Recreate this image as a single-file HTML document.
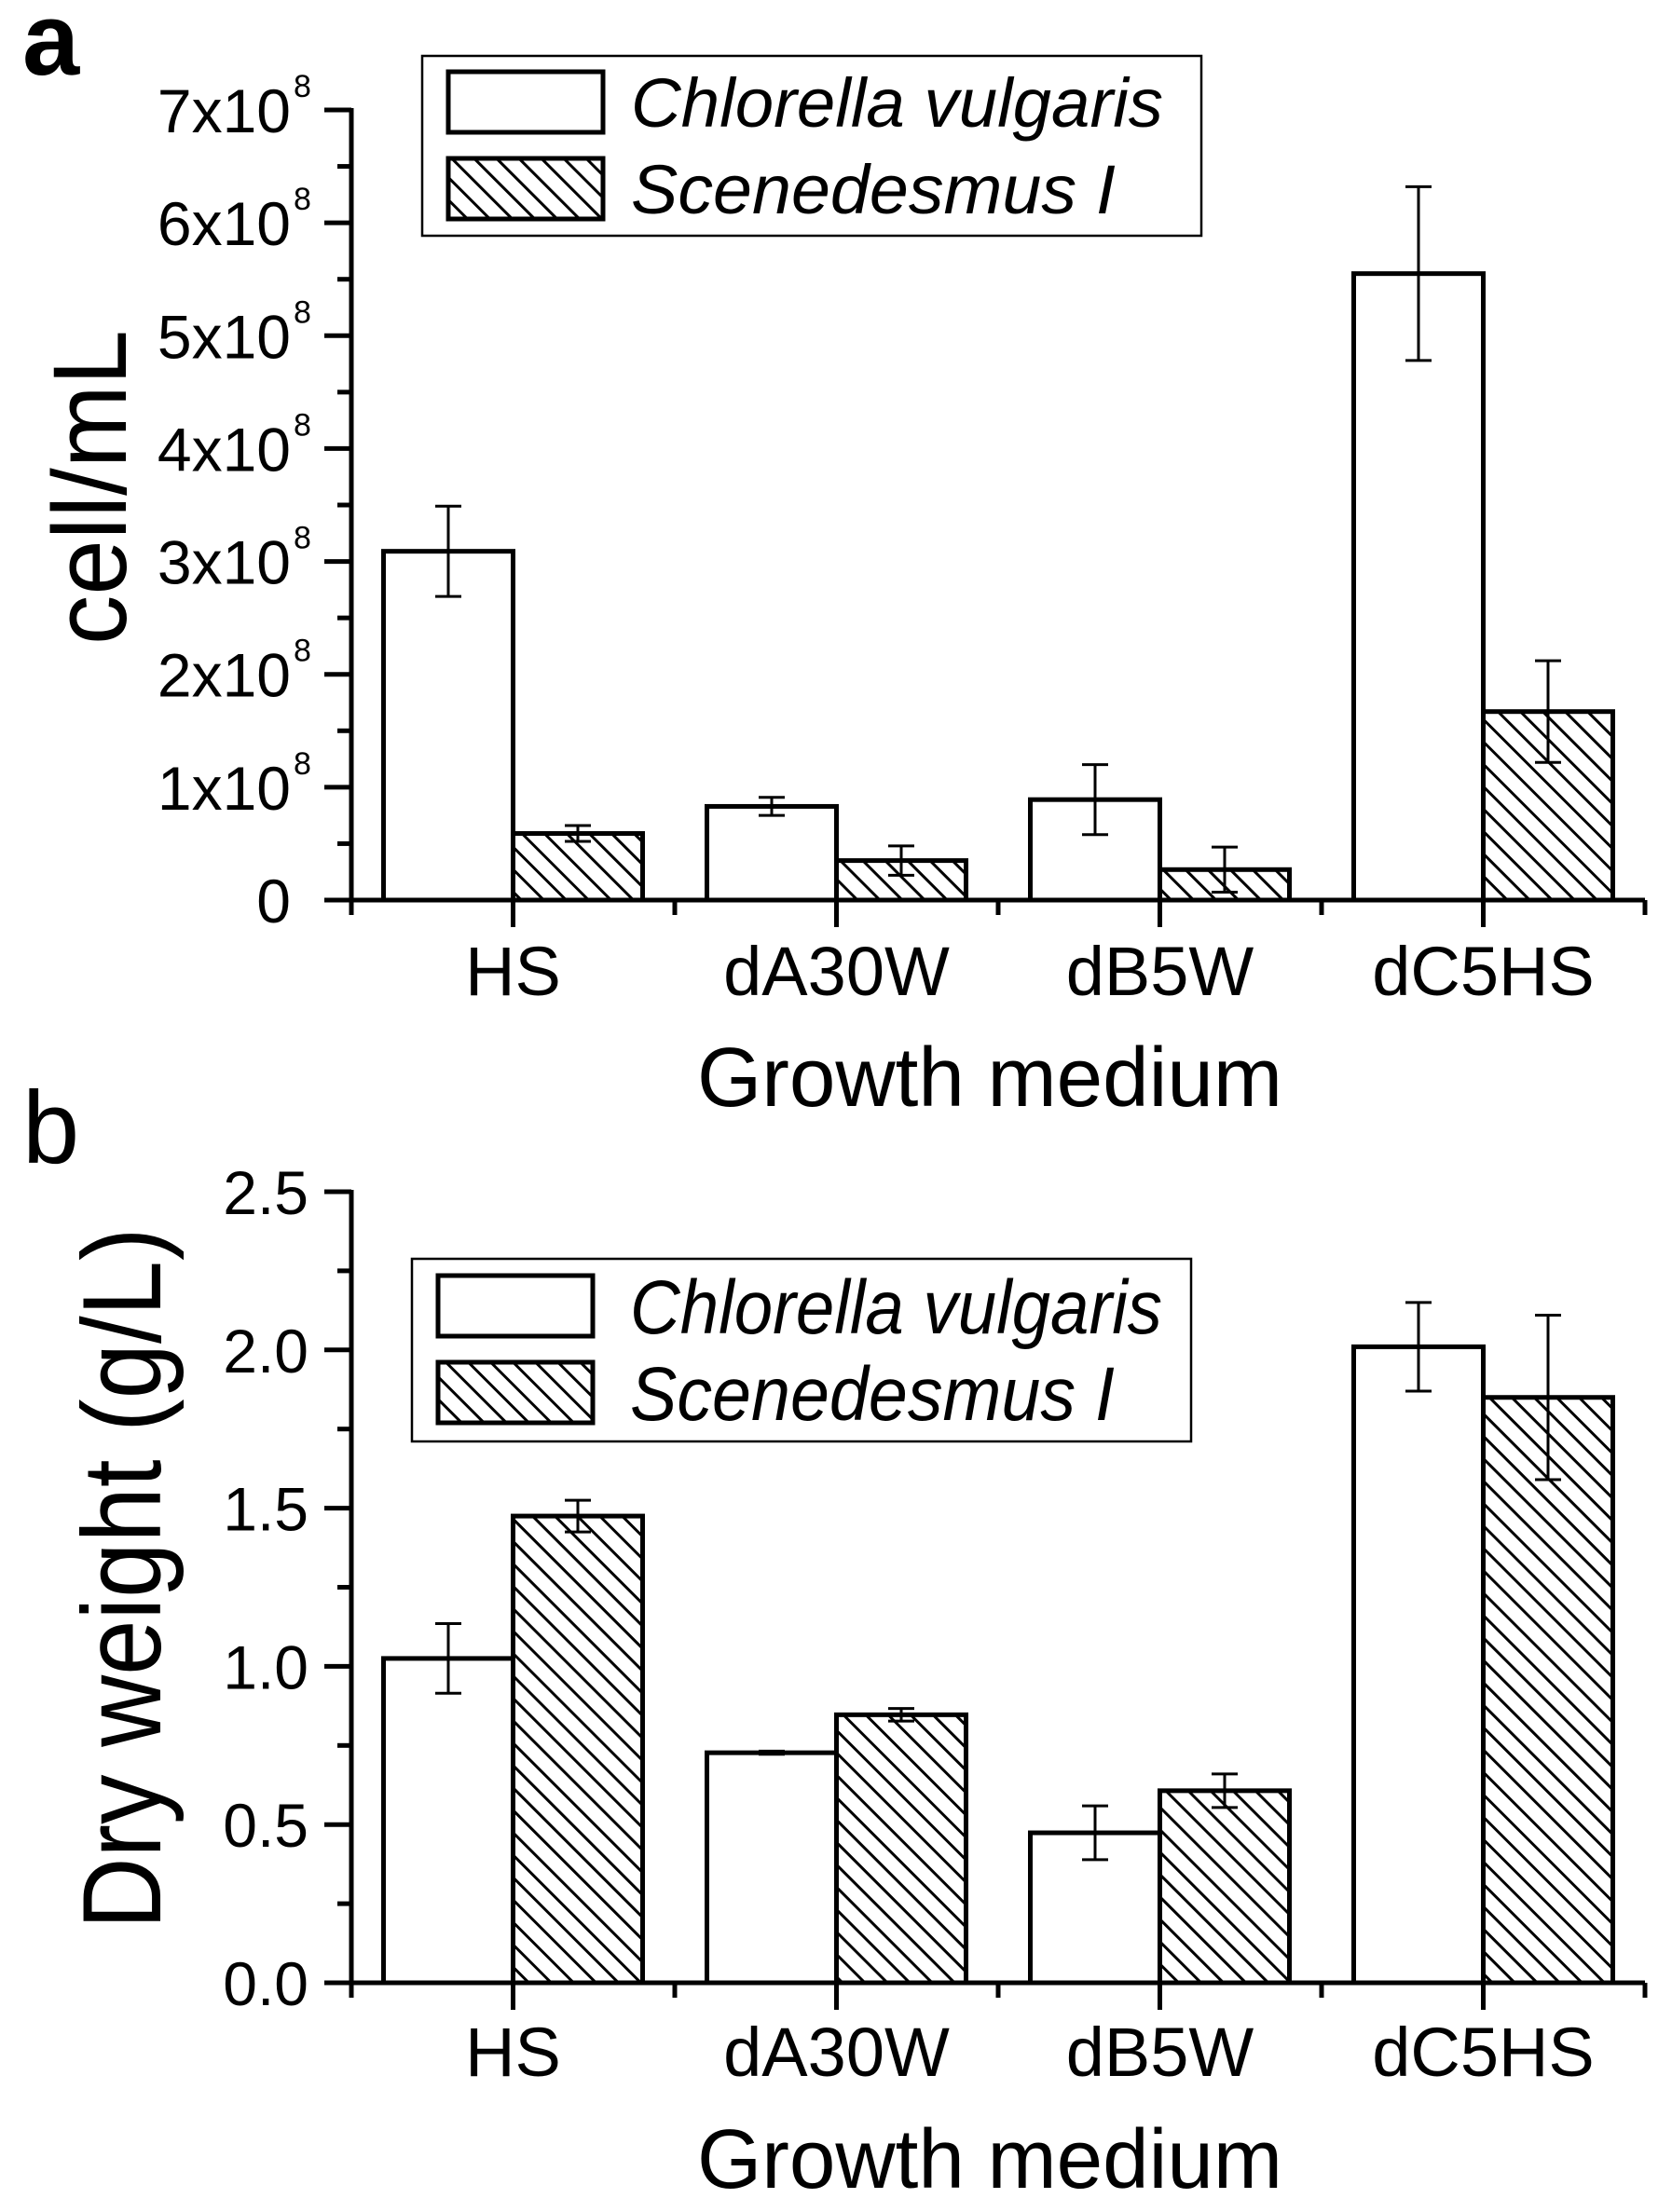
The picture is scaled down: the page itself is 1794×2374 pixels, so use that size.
<!DOCTYPE html>
<html><head><meta charset="utf-8"><style>
html,body{margin:0;padding:0;background:#fff}
svg{display:block}
text{font-family:"Liberation Sans",Arial,sans-serif;fill:#000}
</style></head><body>
<svg id="fig" xmlns="http://www.w3.org/2000/svg" width="1794" height="2374" viewBox="0 0 1794 2374">
<defs>
<pattern id="hatch" patternUnits="userSpaceOnUse" width="17" height="17" patternTransform="rotate(-45)">
<rect width="17" height="17" fill="#fff"/>
<line x1="0" y1="0" x2="0" y2="17" stroke="#000" stroke-width="6"/>
</pattern>
</defs>
<g id="panelA"></g>
<g id="panelB"></g>
</svg>
<script>
const categories = ["HS","dA30W","dB5W","dC5HS"];
const cellChlorella = [3.09,0.83,0.89,5.55];
const cellChlorellaErr = [0.40,0.08,0.31,0.77];
const cellScened = [0.59,0.35,0.27,1.67];
const cellScenedErr = [0.07,0.13,0.20,0.45];
const dryChlorella = [1.025,0.727,0.474,2.01];
const dryChlorellaErr = [0.11,0.005,0.085,0.14];
const dryScened = [1.475,0.847,0.607,1.85];
const dryScenedErr = [0.05,0.02,0.053,0.26];
const cellTicks = [0,1,2,3,4,5,6,7];
const dryTicks = [0,0.5,1.0,1.5,2.0,2.5];
const dryTickLabels = ["0.0","0.5","1.0","1.5","2.0","2.5"];

const NS="http://www.w3.org/2000/svg";
function mk(tag,attrs,parent){const e=document.createElementNS(NS,tag);for(const k in attrs)e.setAttribute(k,attrs[k]);parent.appendChild(e);return e;}

function drawPanel(g,cfg){
  const x0=377, xEnd=1765, catW=(xEnd-x0)/categories.length, bw=139;
  const y=v=>cfg.y0-(v-cfg.vmin)/(cfg.vmax-cfg.vmin)*(cfg.y0-cfg.yTop);
  const xc=i=>x0+catW*(i+0.5);
  categories.forEach((c,i)=>{
    [[cfg.s1,cfg.e1,"#fff",-bw,"chlorella"],[cfg.s2,cfg.e2,"url(#hatch)",0,"scenedesmus"]].forEach(([s,e,fill,off,nm])=>{
      const top=y(s[i]);
      const r=mk("rect",{x:xc(i)+off,y:top,width:bw,height:cfg.y0-top,fill:fill,stroke:"#000","stroke-width":5},g);
      
      
      const cx=xc(i)+off+bw/2, hi=y(s[i]+e[i]), lo=y(s[i]-e[i]);
      const eg=mk("g",{stroke:"#000","stroke-width":3},g);
      
      
      mk("line",{x1:cx,y1:hi,x2:cx,y2:lo},eg);
      mk("line",{x1:cx-14,y1:hi,x2:cx+14,y2:hi},eg);
      mk("line",{x1:cx-14,y1:lo,x2:cx+14,y2:lo},eg);
    });
  });
  const ax=mk("g",{stroke:"#000","stroke-width":5},g);
  
  
  mk("line",{x1:x0,y1:cfg.yTop-2,x2:x0,y2:cfg.y0+2},ax);
  mk("line",{x1:348,y1:cfg.y0,x2:xEnd,y2:cfg.y0},ax);
  cfg.ticks.forEach((t,k)=>{
    mk("line",{x1:348,y1:y(t),x2:x0,y2:y(t)},ax);
    if(k<cfg.ticks.length-1){const m=(t+cfg.ticks[k+1])/2;mk("line",{x1:362,y1:y(m),x2:x0,y2:y(m)},ax);}
    const lab=mk("text",{x:cfg.labRight,y:y(t)+24,"font-size":66,"text-anchor":"end"},g);
    
    
    if(cfg.sci && t>0){
      lab.textContent=t+"x10";
      const sup=mk("text",{x:cfg.labRight+3,y:y(t)-14,"font-size":34},g);
      sup.textContent="8";
      
      
    } else lab.textContent=cfg.tickLabels?cfg.tickLabels[k]:String(t);
  });
  for(let k=0;k<=categories.length;k++){
    mk("line",{x1:x0+catW*k,y1:cfg.y0,x2:x0+catW*k,y2:cfg.y0+16},ax);
  }
  categories.forEach((c,i)=>{
    mk("line",{x1:xc(i),y1:cfg.y0,x2:xc(i),y2:cfg.y0+29},ax);
    const t=mk("text",{x:xc(i),y:cfg.catY,"font-size":74,"text-anchor":"middle"},g);
    t.textContent=c;
    
    
  });
  const xt=mk("text",{x:1062,y:cfg.titleY,"font-size":90,"text-anchor":"middle",textLength:628,lengthAdjust:"spacingAndGlyphs"},g);
  xt.textContent="Growth medium";
  
  
  const yt=mk("text",{x:0,y:0,"font-size":cfg.ylFont,"text-anchor":"middle",textLength:cfg.ylLen,lengthAdjust:"spacingAndGlyphs",transform:`translate(${cfg.ylX},${cfg.ylY}) rotate(-90)`},g);
  yt.textContent=cfg.ylabel;
  
  
  const pl=mk("text",{x:24,y:cfg.letterY,"font-size":110,"font-weight":cfg.letterBold?"bold":"normal"},g);
  pl.textContent=cfg.letter;
  
  
  const L=cfg.leg;
  const lg=mk("g",{},g);
  
  
  mk("rect",{x:L.x,y:L.y,width:L.w,height:L.h,fill:"#fff",stroke:"#000","stroke-width":2.5},lg);
  const names=["Chlorella vulgaris","Scenedesmus I"], fills=["#fff","url(#hatch)"], lens=[571,520];
  names.forEach((n,k)=>{
    const sy=L.sy[k];
    const sw=mk("rect",{x:L.sx,y:sy,width:L.sw,height:L.sh,fill:fills[k],stroke:"#000","stroke-width":5},lg);
    
    
    const tx=mk("text",{x:L.tx,y:sy+L.sh/2+L.fs*0.36,"font-size":L.fs,"font-style":"italic",textLength:lens[k],lengthAdjust:"spacingAndGlyphs"},lg);
    tx.textContent=n;
    
    
  });
}

drawPanel(document.getElementById("panelA"),{
  y0:966,yTop:118,vmin:0,vmax:7,ticks:cellTicks,sci:true,labRight:312,
  s1:cellChlorella,e1:cellChlorellaErr,s2:cellScened,e2:cellScenedErr,
  catY:1068,titleY:1187,ylabel:"cell/mL",ylFont:112,ylLen:338,ylX:135,ylY:523,
  letter:"a",letterY:80,letterBold:true,
  leg:{x:453,y:60,w:836,h:193,sx:481,sw:166,sh:65,sy:[77,170],tx:677,fs:74}
});
drawPanel(document.getElementById("panelB"),{
  y0:2128,yTop:1279,vmin:0,vmax:2.5,ticks:dryTicks,tickLabels:dryTickLabels,sci:false,labRight:331,
  s1:dryChlorella,e1:dryChlorellaErr,s2:dryScened,e2:dryScenedErr,
  catY:2228,titleY:2348,ylabel:"Dry weight (g/L)",ylFont:120,ylLen:753,ylX:172,ylY:1694,
  letter:"b",letterY:1248,letterBold:false,
  leg:{x:442,y:1351,w:836,h:196,sx:470,sw:166,sh:65,sy:[1369,1462],tx:676,fs:82}
});
</script>
</body></html>
